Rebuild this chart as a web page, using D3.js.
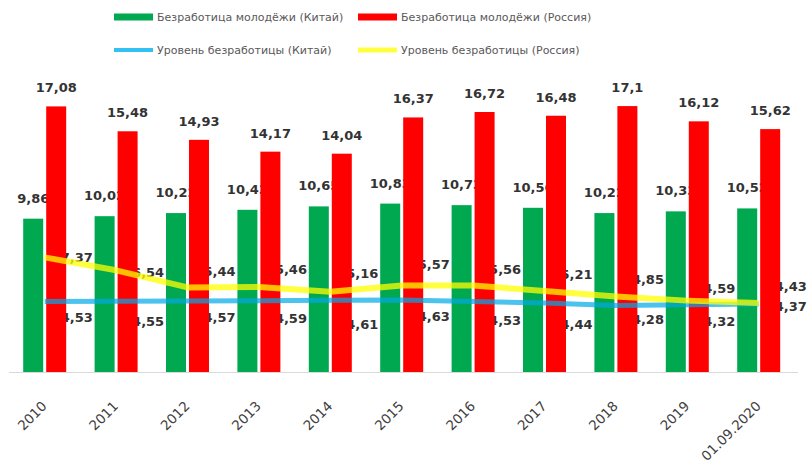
<!DOCTYPE html>
<html>
<head>
<meta charset="utf-8">
<script src="https://cdn.jsdelivr.net/npm/d3@7"></script>
<style>
  html, body { margin: 0; padding: 0; background: #fff; }
  svg { display: block; }
</style>
</head>
<body>
<svg id="chart" width="811" height="466"></svg>
<script>
// Categories and series
const categories = ['2010', '2011', '2012', '2013', '2014', '2015', '2016', '2017', '2018', '2019', '01.09.2020'];
const youthChina  = [9.86, 10.02, 10.22, 10.43, 10.65, 10.83, 10.73, 10.56, 10.22, 10.33, 10.52];
const youthRussia = [17.08, 15.48, 14.93, 14.17, 14.04, 16.37, 16.72, 16.48, 17.1, 16.12, 15.62];
const rateChina   = [4.53, 4.55, 4.57, 4.59, 4.61, 4.63, 4.53, 4.44, 4.28, 4.32, 4.37];
const rateRussia  = [7.37, 6.54, 5.44, 5.46, 5.16, 5.57, 5.56, 5.21, 4.85, 4.59, 4.43];

const legendItems = [
  { name: 'Безработица молодёжи (Китай)',  kind: 'bar',  color: '#00a84f' },
  { name: 'Безработица молодёжи (Россия)', kind: 'bar',  color: '#ff0000' },
  { name: 'Уровень безработицы (Китай)',   kind: 'line', color: '#00b0f0' },
  { name: 'Уровень безработицы (Россия)',  kind: 'line', color: '#ffff00' }
];

// Hand-placed label nudges (px, vertical, relative to the line point)
const ruLabelShift = [0, 2, -16, -18, -18, -21, -16, -17, -17, -12, -17];
const cnLabelShift = [16, 20, 16, 18, 24, 16, 19, 21, 14, 16, 2];

const svg = d3.select('#chart');
const baseY = 372;

const x = d3.scaleBand()
  .domain(categories)
  .range([9, 794.4])
  .paddingInner(0.398)
  .paddingOuter(0.199);

const xs = d3.scaleBand()
  .domain(['cn', 'ru'])
  .range([0, x.bandwidth()])
  .paddingInner(0.13);

const y = d3.scaleLinear().domain([0, 20]).range([baseY, baseY - 311]);

const cx = c => x(c) + x.bandwidth() / 2;

const labelFont = 'DejaVu Sans, Verdana, sans-serif';

// Baseline
svg.append('line')
  .attr('x1', 9).attr('x2', 798)
  .attr('y1', baseY + 0.5).attr('y2', baseY + 0.5)
  .attr('stroke', '#d9d9d9').attr('stroke-width', 1);

const rows = categories.map((c, i) => ({
  c, cn: youthChina[i], ru: youthRussia[i], rc: rateChina[i], rr: rateRussia[i], i
}));

// China youth bars
svg.append('g').selectAll('rect').data(rows).join('rect')
  .attr('x', d => x(d.c) + xs('cn'))
  .attr('width', xs.bandwidth())
  .attr('y', d => y(d.cn))
  .attr('height', d => y(0) - y(d.cn))
  .attr('fill', '#00a84f');

const fmt = v => String(v).replace('.', ',');

// China youth labels (sit under the neighbouring red bars)
svg.append('g').selectAll('text').data(rows).join('text')
  .attr('x', d => x(d.c) + xs('cn') + xs.bandwidth() / 2)
  .attr('y', d => y(d.cn) - 16)
  .attr('text-anchor', 'middle')
  .attr('font-family', labelFont).attr('font-weight', 'bold')
  .attr('font-size', 13).attr('fill', '#333')
  .text(d => fmt(d.cn));

// Line value labels
const lblG = svg.append('g')
  .attr('font-family', labelFont).attr('font-weight', 'bold')
  .attr('font-size', 13).attr('fill', '#333');

lblG.selectAll('text.rr').data(rows).join('text')
  .attr('class', 'rr')
  .attr('x', d => cx(d.c) + 16)
  .attr('y', d => y(d.rr) + ruLabelShift[d.i] + 4.7)
  .text(d => fmt(d.rr));

lblG.selectAll('text.rc').data(rows).join('text')
  .attr('class', 'rc')
  .attr('x', d => cx(d.c) + 16)
  .attr('y', d => y(d.rc) + cnLabelShift[d.i] + 4.7)
  .text(d => fmt(d.rc));

// Russia youth bars
svg.append('g').selectAll('rect').data(rows).join('rect')
  .attr('x', d => x(d.c) + xs('ru'))
  .attr('width', xs.bandwidth())
  .attr('y', d => y(d.ru))
  .attr('height', d => y(0) - y(d.ru))
  .attr('fill', '#ff0000');

svg.append('g').selectAll('text').data(rows).join('text')
  .attr('x', d => x(d.c) + xs('ru') + xs.bandwidth() / 2)
  .attr('y', d => y(d.ru) - 14)
  .attr('text-anchor', 'middle')
  .attr('font-family', labelFont).attr('font-weight', 'bold')
  .attr('font-size', 13).attr('fill', '#333')
  .text(d => fmt(d.ru));

// Unemployment rate lines
const line = key => d3.line().x(d => cx(d.c)).y(d => y(d[key]));

svg.append('path').datum(rows)
  .attr('d', line('rc'))
  .attr('fill', 'none').attr('stroke', '#00a8e8')
  .attr('stroke-width', 5).attr('stroke-opacity', 0.7)
  .attr('stroke-linejoin', 'round');

svg.append('path').datum(rows)
  .attr('d', line('rr'))
  .attr('fill', 'none').attr('stroke', '#ffff00')
  .attr('stroke-width', 6).attr('stroke-opacity', 0.75)
  .attr('stroke-linejoin', 'round');

// X axis labels
const xAxis = d3.axisBottom(x).tickSize(0).tickPadding(0);
const axG = svg.append('g').attr('transform', `translate(0,${baseY})`).call(xAxis);
axG.select('.domain').remove();
axG.selectAll('.tick text')
  .attr('font-family', labelFont)
  .attr('font-size', 13.5)
  .attr('fill', '#404040')
  .attr('text-anchor', 'end')
  .attr('dy', 0)
  .attr('transform', 'translate(3,35) rotate(-45)');

// Legend
const legendPos = [
  { sx: 114, ty: 17 }, { sx: 358, ty: 17 },
  { sx: 114, ty: 50 }, { sx: 358, ty: 50 }
];
const lg = svg.append('g');
legendItems.forEach((it, i) => {
  const p = legendPos[i];
  if (it.kind === 'bar') {
    lg.append('rect')
      .attr('x', p.sx).attr('y', p.ty - 3.5)
      .attr('width', 39).attr('height', 7)
      .attr('fill', it.color);
  } else {
    lg.append('line')
      .attr('x1', p.sx).attr('x2', p.sx + 39)
      .attr('y1', p.ty).attr('y2', p.ty)
      .attr('stroke', it.color)
      .attr('stroke-width', it.color === '#ffff00' ? 5 : 4)
      .attr('stroke-opacity', it.color === '#ffff00' ? 0.75 : 0.8);
  }
  lg.append('text')
    .attr('x', p.sx + 43).attr('y', p.ty + 4)
    .attr('font-family', labelFont)
    .attr('font-size', 11)
    .attr('fill', '#595959')
    .text(it.name);
});
</script>
</body>
</html>
